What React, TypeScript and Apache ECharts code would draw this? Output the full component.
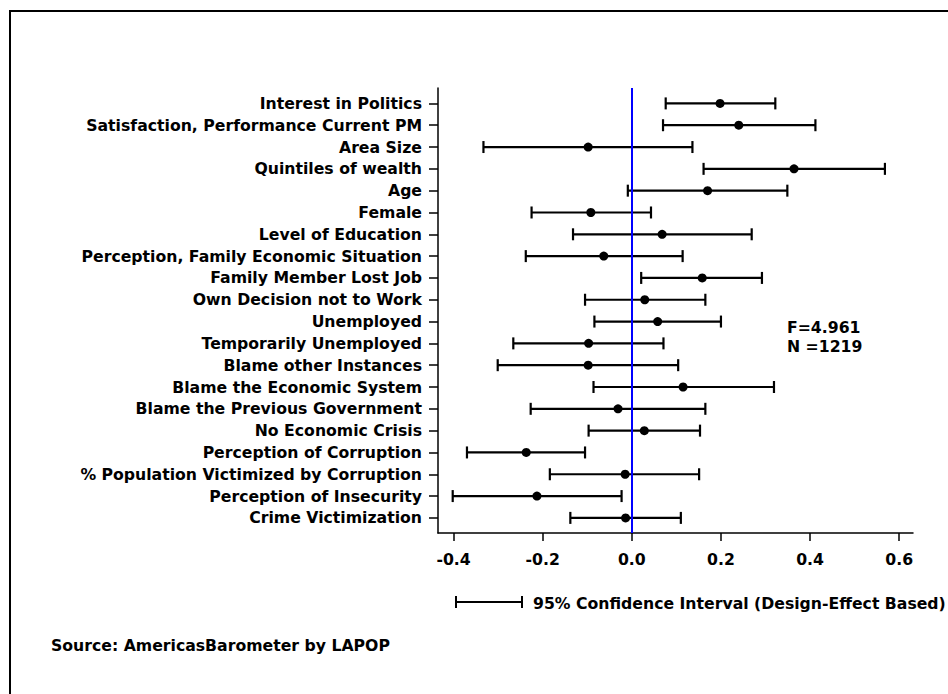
import React, { useEffect, useRef } from "react";
import * as echarts from "echarts";

const categories = [
  "Interest in Politics",
  "Satisfaction, Performance Current PM",
  "Area Size",
  "Quintiles of wealth",
  "Age",
  "Female",
  "Level of Education",
  "Perception, Family Economic Situation",
  "Family Member Lost Job",
  "Own Decision not to Work",
  "Unemployed",
  "Temporarily Unemployed",
  "Blame other Instances",
  "Blame the Economic System",
  "Blame the Previous Government",
  "No Economic Crisis",
  "Perception of Corruption",
  "% Population Victimized by Corruption",
  "Perception of Insecurity",
  "Crime Victimization",
];

const estimates = [
  0.198, 0.240, -0.098, 0.364, 0.170, -0.092, 0.068, -0.063, 0.158, 0.029,
  0.058, -0.097, -0.098, 0.115, -0.031, 0.028, -0.237, -0.015, -0.213, -0.014,
];

const lowerCI = [
  0.076, 0.070, -0.333, 0.161, -0.009, -0.225, -0.132, -0.238, 0.021, -0.105,
  -0.084, -0.266, -0.301, -0.086, -0.227, -0.097, -0.370, -0.184, -0.402, -0.138,
];

const upperCI = [
  0.322, 0.412, 0.136, 0.568, 0.349, 0.043, 0.269, 0.114, 0.292, 0.165,
  0.200, 0.071, 0.104, 0.319, 0.165, 0.153, -0.105, 0.151, -0.023, 0.110,
];

const xTicks = [-0.4, -0.2, 0.0, 0.2, 0.4, 0.6];
const xMin = -0.435;
const xMax = 0.631;

const statsText = ["F=4.961", "N =1219"];
const legendText = "95% Confidence Interval (Design-Effect Based)";
const sourceText = "Source: AmericasBarometer by LAPOP";

const FONT = "DejaVu Sans";
const FS = 15.7;

export default function App() {
  const ref = useRef<HTMLDivElement>(null);

  useEffect(() => {
    if (!ref.current) return;
    const chart = echarts.init(ref.current, null, { renderer: "svg" });

    const ciData = categories.map((_, i) => [lowerCI[i], upperCI[i], i]);
    const pointData = categories.map((_, i) => [estimates[i], i]);

    const option: any = {
      animation: false,
      backgroundColor: "#ffffff",
      grid: [
        { left: 438, right: 35, top: 88, bottom: 161 },
        { left: 438, right: 35, top: 92.5, bottom: 165.2 },
      ],
      xAxis: [
        {
          type: "value",
          gridIndex: 0,
          min: xMin,
          max: xMax,
          axisLine: { show: true, onZero: false, lineStyle: { color: "#000", width: 1.5 } },
          axisTick: {
            show: true,
            length: 8,
            customValues: xTicks,
            lineStyle: { color: "#000", width: 1.5 },
          },
          axisLabel: {
            show: true,
            customValues: xTicks,
            formatter: (v: number) => v.toFixed(1),
            color: "#000",
            fontFamily: FONT,
            fontWeight: "bold",
            fontSize: FS,
            margin: 18,
          },
          splitLine: { show: false },
        },
        {
          type: "value",
          gridIndex: 1,
          min: xMin,
          max: xMax,
          show: false,
        },
      ],
      yAxis: [
        {
          type: "value",
          gridIndex: 0,
          min: 0,
          max: 1,
          axisLine: { show: true, onZero: false, lineStyle: { color: "#000", width: 1.5 } },
          axisTick: { show: false },
          axisLabel: { show: false },
          splitLine: { show: false },
        },
        {
          type: "category",
          gridIndex: 1,
          data: categories,
          inverse: true,
          axisLine: { show: false, onZero: false },
          axisTick: {
            show: true,
            alignWithLabel: true,
            length: 9,
            lineStyle: { color: "#000", width: 1.5 },
          },
          axisLabel: {
            color: "#000",
            fontFamily: FONT,
            fontWeight: "bold",
            fontSize: FS,
            margin: 16,
          },
          splitLine: { show: false },
        },
      ],
      series: [
        {
          type: "line",
          xAxisIndex: 0,
          yAxisIndex: 0,
          data: [],
          markLine: {
            silent: true,
            symbol: "none",
            label: { show: false },
            lineStyle: { color: "#0000ff", width: 2, type: "solid" },
            data: [{ xAxis: 0 }],
          },
        },
        {
          type: "custom",
          xAxisIndex: 1,
          yAxisIndex: 1,
          data: ciData,
          encode: { x: [0, 1], y: 2 },
          renderItem: (params: any, api: any) => {
            const lo = api.coord([api.value(0), api.value(2)]);
            const hi = api.coord([api.value(1), api.value(2)]);
            const h = 6;
            const st = { stroke: "#000", lineWidth: 2.2 };
            return {
              type: "group",
              children: [
                { type: "line", shape: { x1: lo[0], y1: lo[1], x2: hi[0], y2: hi[1] }, style: st },
                { type: "line", shape: { x1: lo[0], y1: lo[1] - h, x2: lo[0], y2: lo[1] + h }, style: st },
                { type: "line", shape: { x1: hi[0], y1: hi[1] - h, x2: hi[0], y2: hi[1] + h }, style: st },
              ],
            };
          },
          z: 3,
        },
        {
          type: "scatter",
          xAxisIndex: 1,
          yAxisIndex: 1,
          data: pointData,
          symbol: "circle",
          symbolSize: 9,
          itemStyle: { color: "#000", opacity: 1 },
          z: 4,
        },
      ],
      graphic: [
        {
          type: "rect",
          shape: { x: 10, y: 11, width: 1200, height: 1000 },
          style: { fill: "none", stroke: "#000", lineWidth: 2 },
          silent: true,
        },
        {
          type: "text",
          x: 787,
          y: 337,
          style: {
            text: statsText.join("\n"),
            fill: "#000",
            font: `bold ${FS}px "${FONT}"`,
            lineHeight: 19.5,
            verticalAlign: "middle",
            align: "left",
          },
        },
        {
          type: "group",
          x: 456,
          y: 602,
          children: [
            { type: "line", shape: { x1: 0, y1: 0, x2: 66, y2: 0 }, style: { stroke: "#000", lineWidth: 2 } },
            { type: "line", shape: { x1: 0, y1: -6, x2: 0, y2: 6 }, style: { stroke: "#000", lineWidth: 2 } },
            { type: "line", shape: { x1: 66, y1: -6, x2: 66, y2: 6 }, style: { stroke: "#000", lineWidth: 2 } },
          ],
        },
        {
          type: "text",
          x: 533,
          y: 603,
          style: {
            text: legendText,
            fill: "#000",
            font: `bold ${FS}px "${FONT}"`,
            verticalAlign: "middle",
            align: "left",
          },
        },
        {
          type: "text",
          x: 51,
          y: 645,
          style: {
            text: sourceText,
            fill: "#000",
            font: `bold ${FS}px "${FONT}"`,
            verticalAlign: "middle",
            align: "left",
          },
        },
      ],
    };

    chart.setOption(option);
    return () => chart.dispose();
  }, []);

  return (
    <div
      ref={ref}
      style={{ position: "absolute", left: 0, top: 0, width: 948, height: 694 }}
    />
  );
}
